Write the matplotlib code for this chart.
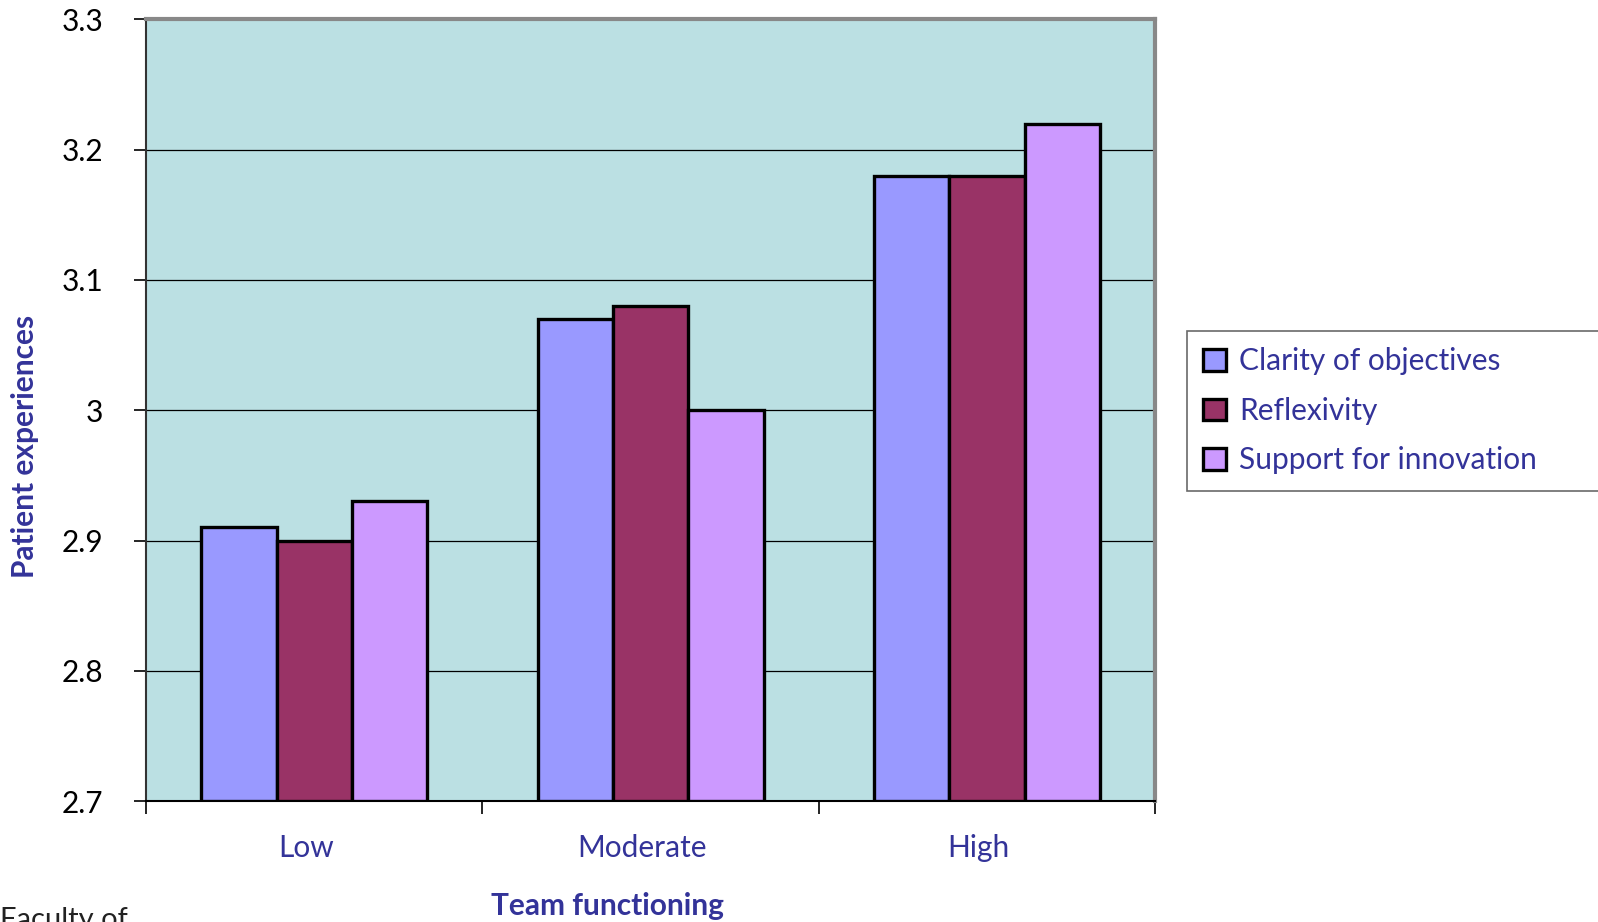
import numpy as np
import matplotlib.pyplot as plt

# Datos
categorias = ['Low', 'Moderate', 'High']
series = ['Clarity of objectives', 'Reflexivity', 'Support for innovation']
clarity = [2.91, 3.07, 3.18]
reflexivity = [2.90, 3.08, 3.18]
support = [2.93, 3.00, 3.22]
colores = ['#9999FF', '#993366', '#CC99FF']

azul = '#333399'
fs = 21.5
plt.rcParams['font.family'] = ['Lato', 'DejaVu Sans']

fig = plt.figure(figsize=(15.98, 9.22), dpi=100)
ax = fig.add_axes([0.0914, 0.1312, 0.6314, 0.8477])
ax.set_facecolor('#BBE0E3')

x = np.arange(len(categorias))
ancho = 0.224
for i, (valores, nombre) in enumerate(zip([clarity, reflexivity, support], series)):
    ax.bar(x + (i - 1) * ancho, np.array(valores) - 2.7, bottom=2.7, width=ancho,
           color=colores[i], edgecolor='black', linewidth=2.4, label=nombre, zorder=3)

ax.set_xlim(-0.5, 2.5)
ax.set_ylim(2.7, 3.3)
ax.set_yticks([2.7, 2.8, 2.9, 3.0, 3.1, 3.2, 3.3])
ax.set_yticklabels(['2.7', '2.8', '2.9', '3', '3.1', '3.2', '3.3'], fontsize=fs)
ax.yaxis.grid(True, color='black', linewidth=0.9, zorder=1)
ax.set_axisbelow(True)

# ticks del eje x en los bordes de las categorias
ax.set_xticks([-0.5, 0.5, 1.5, 2.5])
ax.set_xticklabels([])
ax.set_xticks(x - 0.025, minor=True)
ax.set_xticklabels(categorias, minor=True, fontsize=fs, color=azul)
ax.tick_params(axis='x', which='minor', length=0, pad=24)
ax.tick_params(axis='x', which='major', length=9, width=1.2, direction='out')
ax.tick_params(axis='y', length=9, width=1.2, direction='out', pad=22)

for lado in ['top', 'right']:
    ax.spines[lado].set_color('#888888')
    ax.spines[lado].set_linewidth(3)
ax.spines['left'].set_color('#333333')
ax.spines['left'].set_linewidth(1.5)
ax.spines['bottom'].set_color('black')
ax.spines['bottom'].set_linewidth(1.5)

fig.text(0.0156, 0.516, 'Patient experiences', rotation=90, ha='center', va='center',
         fontsize=fs, fontweight='bold', color=azul)
fig.text(0.380, 0.017, 'Team functioning', ha='center', va='center',
         fontsize=fs, fontweight='bold', color=azul)
fig.text(0.0, 0.016, 'Faculty of', ha='left', va='top', fontsize=21, color='#222222')

leg = fig.legend(loc='upper left', bbox_to_anchor=(0.7428, 0.472, 0.30, 0.169),
                 mode='expand', fontsize=fs, labelcolor=azul, frameon=True,
                 fancybox=False, handlelength=0.75, handleheight=0.75,
                 labelspacing=0.72, borderpad=0.55, handletextpad=0.45, borderaxespad=0)
leg.get_frame().set_edgecolor('#444444')
leg.get_frame().set_linewidth(1.2)
for h in leg.legend_handles:
    h.set_linewidth(2.4)

plt.savefig('out.png')
